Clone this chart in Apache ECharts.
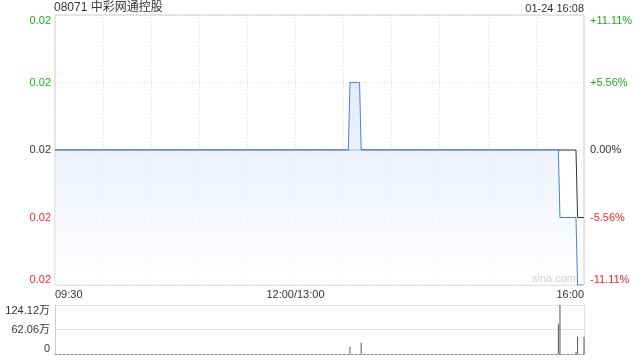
<!DOCTYPE html>
<html><head><meta charset="utf-8">
<script src="https://cdn.jsdelivr.net/npm/echarts@6/dist/echarts.min.js"></script>
<style>html,body{margin:0;padding:0;background:#fff}#c{width:640px;height:360px}</style>
</head><body><div id="c"></div>
<script>
const stockTitle = '08071 中彩网通控股';
const stampText = '01-24 16:08';
const watermark = 'sina.com';
const priceMin = 0.016, priceMax = 0.020, priceStep = 0.001;
const priceTimes = [0, 183, 184, 190, 191, 314, 315, 325, 326, 329];
const priceValues = [0.018, 0.018, 0.019, 0.019, 0.018, 0.018, 0.017, 0.017, 0.016, 0.016];
const avgTimes = [0, 325, 326, 330];
const avgValues = [0.018, 0.018, 0.017, 0.017];
const volTimes = [184, 191, 314, 315, 325, 326, 330];
const volValues = [17.5, 28.3, 76.5, 124.12, 6, 43.9, 43.9];
const volMax = 124.12;
const timeTickPos = [0, 150, 330];
const timeTickLabels = ['09:30', '12:00/13:00', '16:00'];
const priceTickLabels = ['0.02', '0.02', '0.02', '0.02', '0.02'];
const pctTickLabels = ['-11.11%', '-5.56%', '0.00%', '+5.56%', '+11.11%'];
const volTickLabels = ['0', '62.06万', '124.12万'];

const FONT = '"Liberation Sans", Arial, "Noto Sans CJK SC", sans-serif';
const GREEN = '#22a822', RED = '#ee2a2a', DARK = '#333';
const tickColor = (v, i) => (i < 2 ? RED : (i === 2 ? DARK : GREEN));
const zip = (a, b) => a.map((t, i) => [t, b[i]]);

const chart = echarts.init(document.getElementById('c'), null, {renderer: 'canvas'});
chart.setOption({
  animation: false,
  textStyle: {fontFamily: FONT},
  title: [
    {text: stockTitle, left: 54, top: 2, padding: 0, textStyle: {fontSize: 12, fontWeight: 'normal', color: DARK, fontFamily: FONT}},
    {text: stampText, right: 56, top: 3, padding: 0, textStyle: {fontSize: 11, fontWeight: 'normal', color: DARK, fontFamily: FONT}}
  ],
  graphic: [
    {type: 'text', left: 532, top: 273, z: 10, style: {text: watermark, fill: '#cfcfcf', font: '11px ' + FONT}}
  ],
  grid: [
    {left: 55, right: 56, top: 15, height: 270, show: true, borderColor: '#ccc', borderWidth: 1, backgroundColor: 'transparent'},
    {left: 55, right: 56, top: 305, height: 49}
  ],
  xAxis: [
    {gridIndex: 0, type: 'value', min: 0, max: 330, interval: 30,
     axisLine: {show: false}, axisTick: {show: false},
     splitLine: {show: true, lineStyle: {color: '#ddd', type: [1, 2]}},
     axisLabel: {show: true, margin: 4, fontSize: 11, color: DARK, fontFamily: FONT,
       showMinLabel: true, showMaxLabel: true, alignMinLabel: 'left', alignMaxLabel: 'right',
       formatter: v => { const i = timeTickPos.indexOf(v); return i >= 0 ? timeTickLabels[i] : ''; }}},
    {gridIndex: 1, type: 'value', min: 0, max: 330, interval: 30,
     axisLine: {show: true, lineStyle: {color: '#888', type: [2, 2]}}, axisTick: {show: false},
     splitLine: {show: false}, axisLabel: {show: false}}
  ],
  yAxis: [
    {gridIndex: 0, type: 'value', min: priceMin, max: priceMax, interval: priceStep, position: 'left',
     axisLine: {show: false}, axisTick: {show: false},
     splitLine: {show: true, lineStyle: {color: '#ddd', type: [1, 2]}},
     axisLabel: {margin: 4, fontSize: 11, fontFamily: FONT, color: tickColor,
       showMinLabel: true, showMaxLabel: true, verticalAlignMinLabel: 'bottom', verticalAlignMaxLabel: 'top',
       formatter: (v, i) => priceTickLabels[i]}},
    {gridIndex: 0, type: 'value', min: priceMin, max: priceMax, interval: priceStep, position: 'right',
     axisLine: {show: false}, axisTick: {show: false}, splitLine: {show: false},
     axisLabel: {margin: 6, fontSize: 11, fontFamily: FONT, color: tickColor,
       showMinLabel: true, showMaxLabel: true, verticalAlignMinLabel: 'bottom', verticalAlignMaxLabel: 'top',
       formatter: (v, i) => pctTickLabels[i]}},
    {gridIndex: 1, type: 'value', min: 0, max: volMax, interval: volMax / 2, position: 'left',
     axisLine: {show: true, lineStyle: {color: '#ccc'}}, axisTick: {show: false},
     splitLine: {show: true, lineStyle: {color: '#ccc', type: [1, 1]}},
     axisLabel: {margin: 5, fontSize: 11, fontFamily: FONT, color: DARK,
       showMinLabel: true, showMaxLabel: true, verticalAlignMinLabel: 'bottom', verticalAlignMaxLabel: 'top',
       formatter: (v, i) => volTickLabels[i]}},
    {gridIndex: 1, type: 'value', min: 0, max: volMax, position: 'right',
     axisLine: {show: true, lineStyle: {color: '#ddd'}}, axisTick: {show: false},
     splitLine: {show: false}, axisLabel: {show: false}}
  ],
  series: [
    {type: 'line', xAxisIndex: 0, yAxisIndex: 0, data: zip(avgTimes, avgValues), symbol: 'none',
     lineStyle: {color: '#333', width: 1}, z: 2},
    {type: 'line', xAxisIndex: 0, yAxisIndex: 0, data: zip(priceTimes, priceValues), symbol: 'none',
     lineStyle: {color: '#4a7fd9', width: 1}, z: 3,
     areaStyle: {origin: 'start', color: new echarts.graphic.LinearGradient(0, 0, 0, 1, [
       {offset: 0, color: '#d6e2f7'}, {offset: 1, color: '#ffffff'}])}},
    {type: 'bar', xAxisIndex: 1, yAxisIndex: 2, data: zip(volTimes, volValues), barWidth: 1,
     itemStyle: {color: '#555'}}
  ]
});
</script></body></html>
